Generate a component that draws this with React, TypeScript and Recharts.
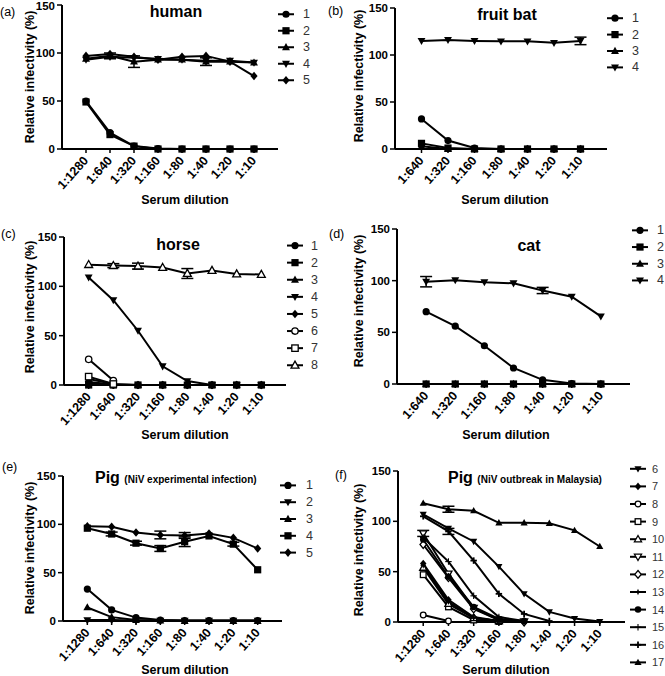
import React from 'react'
import { LineChart, Line, XAxis, YAxis, Legend, ErrorBar } from 'recharts'

const FONT = '"Liberation Sans", Arial, Helvetica, sans-serif'

const dil8 = ['1:1280', '1:640', '1:320', '1:160', '1:80', '1:40', '1:20', '1:10']
const dil7 = ['1:640', '1:320', '1:160', '1:80', '1:40', '1:20', '1:10']
const yTicks = [0, 50, 100, 150]

type V = number | null

// (a) human
const human1: V[] = [50, 17, 3, 0.5, 0, 0, 0, 0]
const human2: V[] = [49, 15, 3, 0, 0, 0, 0, 0]
const human3: V[] = [94, 97, 91, 93, 93, 91, 91, 90]
const human3Err: V[] = [null, 3, 6, null, null, 4, null, null]
const human4: V[] = [93, 96, 95, 94, 93, 92, 92, 90]
const human5: V[] = [97, 99, 96, 93, 96, 97, 91, 76]

// (b) fruit bat
const bat1: V[] = [32, 9, 1, 0, 0, 0, 0]
const bat2: V[] = [6, 1, 0, 0, 0, 0, 0]
const bat3: V[] = [3, 0, 0, 0, 0, 0, 0]
const bat4: V[] = [115, 116, 115, 114.5, 114.5, 113, 115]
const bat4Err: V[] = [null, null, null, null, null, null, 4]

// (c) horse
const horse1: V[] = [2, 0, 0, 0, 0, 0, 0, 0]
const horse2: V[] = [0, 0, 0, 0, 0, 0, 0, 0]
const horse3: V[] = [6, 1, 0, 0, 0, 0, 0, 0]
const horse4: V[] = [109, 86, 55, 19, 4, 0, 0, 0]
const horse5: V[] = [3, 0.5, 0, 0, 0, 0, 0, 0]
const horse6: V[] = [26, 4.5, null, null, null, null, null, null]
const horse7: V[] = [8.5, 1, null, null, null, null, null, null]
const horse8: V[] = [122, 121, 120.5, 119, 113, 116, 112.5, 112]
const horse8Err: V[] = [null, 2, 3, null, 5, null, null, null]

// (d) cat
const cat1: V[] = [70, 56, 37, 15.5, 4, 0.5, 0]
const cat2: V[] = [0, 0, 0, 0, 0, 0, 0]
const cat3: V[] = [0, 0, 0, 0, 0, 0, 0]
const cat4: V[] = [99, 100.5, 98.5, 97.5, 90.5, 84.5, 65.5]
const cat4Err: V[] = [5, null, null, null, 3, null, null]

// (e) pig, experimental infection
const pigE1: V[] = [33, 11.5, 3.5, 1, 0.5, 0.5, 0.5, 0.5]
const pigE2: V[] = [1, 1, 0.5, 0.5, 0.5, 0.5, 0.5, 0.5]
const pigE3: V[] = [14, 4, 1, 0.5, 0, 0, 0, 0]
const pigE4: V[] = [96, 90, 80.5, 75, 82, 88, 79.5, 53]
const pigE4Err: V[] = [null, 2, 2, 3, 5, null, 2, null]
const pigE5: V[] = [98, 97.5, 91.5, 89, 88.5, 90.5, 86, 75]
const pigE5Err: V[] = [null, null, null, 4, 3, null, null, null]

// (f) pig, outbreak in Malaysia
const pigM6: V[] = [107, 93, 80, 55, 28, 10, 3.5, 0.5]
const pigM7: V[] = [58, 22, 5, 1, 0, null, null, null]
const pigM8: V[] = [7, 1, null, null, null, null, null, null]
const pigM9: V[] = [47, 15, 2, 0.5, null, null, null, null]
const pigM10: V[] = [54, 18, 4, 1, null, null, null, null]
const pigM11: V[] = [88, 48, 14, 2, 0.5, null, null, null]
const pigM11Err: V[] = [3, null, null, null, null, null, null, null]
const pigM12: V[] = [77, 44, 13, 2, 0, null, null, null]
const pigM13: V[] = [56, 20, 4, 1, 0, null, null, null]
const pigM14: V[] = [82, 45, 15, 3, 1, null, null, null]
const pigM15: V[] = [84, 60, 26, 5, 1, null, null, null]
const pigM16: V[] = [105, 90, 61, 28, 8, 1, null, null]
const pigM16Err: V[] = [null, 3, null, null, null, null, null, null]
const pigM17: V[] = [118, 112, 110.5, 98.5, 98.5, 98, 91, 75]
const pigM17Err: V[] = [null, 3, null, null, null, null, null, null]

type Shape =
  | 'circle' | 'square' | 'tri' | 'tridown' | 'diamond'
  | 'ocircle' | 'osquare' | 'otri' | 'otridown' | 'odiamond'
  | 'star' | 'plus' | 'thinplus'

interface Series { name: string; shape: Shape; values: V[]; err?: V[] }

const humanSeries: Series[] = [
  { name: '1', shape: 'circle', values: human1 },
  { name: '2', shape: 'square', values: human2 },
  { name: '3', shape: 'tri', values: human3, err: human3Err },
  { name: '4', shape: 'tridown', values: human4 },
  { name: '5', shape: 'diamond', values: human5 },
]
const batSeries: Series[] = [
  { name: '1', shape: 'circle', values: bat1 },
  { name: '2', shape: 'square', values: bat2 },
  { name: '3', shape: 'tri', values: bat3 },
  { name: '4', shape: 'tridown', values: bat4, err: bat4Err },
]
const horseSeries: Series[] = [
  { name: '1', shape: 'circle', values: horse1 },
  { name: '2', shape: 'square', values: horse2 },
  { name: '3', shape: 'tri', values: horse3 },
  { name: '4', shape: 'tridown', values: horse4 },
  { name: '5', shape: 'diamond', values: horse5 },
  { name: '6', shape: 'ocircle', values: horse6 },
  { name: '7', shape: 'osquare', values: horse7 },
  { name: '8', shape: 'otri', values: horse8, err: horse8Err },
]
const catSeries: Series[] = [
  { name: '1', shape: 'circle', values: cat1 },
  { name: '2', shape: 'square', values: cat2 },
  { name: '3', shape: 'tri', values: cat3 },
  { name: '4', shape: 'tridown', values: cat4, err: cat4Err },
]
const pigExpSeries: Series[] = [
  { name: '1', shape: 'circle', values: pigE1 },
  { name: '2', shape: 'tridown', values: pigE2 },
  { name: '3', shape: 'tri', values: pigE3 },
  { name: '4', shape: 'square', values: pigE4, err: pigE4Err },
  { name: '5', shape: 'diamond', values: pigE5, err: pigE5Err },
]
const pigMalSeries: Series[] = [
  { name: '6', shape: 'tridown', values: pigM6 },
  { name: '7', shape: 'diamond', values: pigM7 },
  { name: '8', shape: 'ocircle', values: pigM8 },
  { name: '9', shape: 'osquare', values: pigM9 },
  { name: '10', shape: 'otri', values: pigM10 },
  { name: '11', shape: 'otridown', values: pigM11, err: pigM11Err },
  { name: '12', shape: 'odiamond', values: pigM12 },
  { name: '13', shape: 'star', values: pigM13 },
  { name: '14', shape: 'circle', values: pigM14 },
  { name: '15', shape: 'thinplus', values: pigM15 },
  { name: '16', shape: 'plus', values: pigM16, err: pigM16Err },
  { name: '17', shape: 'tri', values: pigM17, err: pigM17Err },
]

const Marker = ({ shape, cx, cy, s = 1 }: { shape: Shape; cx: number; cy: number; s?: number }) => {
  const r = 3.6 * s
  const open = { fill: '#fff', stroke: '#000', strokeWidth: 1.3 }
  const solid = { fill: '#000' }
  const tri = `${cx},${cy - r * 1.15} ${cx + r * 1.1},${cy + r * 0.8} ${cx - r * 1.1},${cy + r * 0.8}`
  const triDown = `${cx},${cy + r * 1.15} ${cx + r * 1.1},${cy - r * 0.8} ${cx - r * 1.1},${cy - r * 0.8}`
  const dia = `${cx},${cy - r * 1.2} ${cx + r},${cy} ${cx},${cy + r * 1.2} ${cx - r},${cy}`
  switch (shape) {
    case 'circle': return <circle cx={cx} cy={cy} r={r} {...solid} />
    case 'ocircle': return <circle cx={cx} cy={cy} r={r - 0.4} {...open} />
    case 'square': return <rect x={cx - r} y={cy - r} width={2 * r} height={2 * r} {...solid} />
    case 'osquare': return <rect x={cx - r + 0.4} y={cy - r + 0.4} width={2 * r - 0.8} height={2 * r - 0.8} {...open} />
    case 'tri': return <polygon points={tri} {...solid} />
    case 'otri': return <polygon points={tri} {...open} />
    case 'tridown': return <polygon points={triDown} {...solid} />
    case 'otridown': return <polygon points={triDown} {...open} />
    case 'diamond': return <polygon points={dia} {...solid} />
    case 'odiamond': return <polygon points={dia} {...open} />
    case 'star': {
      const k = r * 0.75
      return <polygon points={`${cx},${cy - k * 1.3} ${cx + k * 0.4},${cy - k * 0.4} ${cx + k * 1.3},${cy} ${cx + k * 0.4},${cy + k * 0.4} ${cx},${cy + k * 1.3} ${cx - k * 0.4},${cy + k * 0.4} ${cx - k * 1.3},${cy} ${cx - k * 0.4},${cy - k * 0.4}`} {...solid} />
    }
    case 'plus':
    case 'thinplus': {
      const w = shape === 'plus' ? 1.8 : 1.1
      return (
        <g stroke="#000" strokeWidth={w}>
          <line x1={cx - r} y1={cy} x2={cx + r} y2={cy} />
          <line x1={cx} y1={cy - r} x2={cx} y2={cy + r} />
        </g>
      )
    }
  }
  return null
}

const dotFor = (shape: Shape, s: number) => (p: any) => {
  const k = `d${p.index}`
  if (p.cx == null || p.cy == null || p.value == null) return <g key={k} />
  return <g key={k}><Marker shape={shape} cx={p.cx} cy={p.cy} s={s} /></g>
}

const buildRows = (cats: string[], series: Series[]) =>
  cats.map((c, i) => {
    const row: Record<string, any> = { x: i + 1, label: c }
    series.forEach((s) => {
      row['v' + s.name] = s.values[i]
      if (s.err && s.err[i] != null) row['e' + s.name] = s.err[i]
    })
    return row
  })

const LegendBox = ({ series, gap, s, textX, fontSize }: { series: Series[]; gap: number; s: number; textX: number; fontSize: number }) => (
  <svg width={50} height={series.length * gap} style={{ display: 'block', overflow: 'visible' }}>
    {series.map((item, i) => {
      const y = gap / 2 + i * gap
      return (
        <g key={item.name}>
          <line x1={0} y1={y} x2={16} y2={y} stroke="#000" strokeWidth={2} />
          <Marker shape={item.shape} cx={8} cy={y} s={s} />
          <text x={textX} y={y} dominantBaseline="central" fontSize={fontSize} fontFamily={FONT} fill="#333">{item.name}</text>
        </g>
      )
    })}
  </svg>
)

interface PanelCfg {
  id: string
  x: number; y: number; w: number; h: number
  plot: { l: number; t: number; r: number; b: number }
  cats: string[]
  series: Series[]
  legend: { x: number; y: number; gap: number; textX: number; fontSize: number }
  markerScale: number
}

const Y_W = 30
const X_H = 40

const panels: PanelCfg[] = [
  { id: 'a', x: 0, y: 0, w: 330, h: 215, plot: { l: 62, t: 5, r: 278, b: 149 }, cats: dil8, series: humanSeries, legend: { x: 278, y: 14, gap: 16.5, textX: 25, fontSize: 12.5 }, markerScale: 1 },
  { id: 'b', x: 330, y: 0, w: 335, h: 215, plot: { l: 395, t: 8, r: 607, b: 149 }, cats: dil7, series: batSeries, legend: { x: 607, y: 18, gap: 16.4, textX: 25, fontSize: 12.5 }, markerScale: 1 },
  { id: 'c', x: 0, y: 215, w: 330, h: 235, plot: { l: 64, t: 237, r: 286, b: 385 }, cats: dil8, series: horseSeries, legend: { x: 287, y: 246, gap: 17.1, textX: 24, fontSize: 12.5 }, markerScale: 1 },
  { id: 'd', x: 330, y: 215, w: 335, h: 235, plot: { l: 397, t: 229, r: 630, b: 384 }, cats: dil7, series: catSeries, legend: { x: 632, y: 230, gap: 16.7, textX: 25, fontSize: 12.5 }, markerScale: 1 },
  { id: 'e', x: 0, y: 450, w: 330, h: 226, plot: { l: 63, t: 476, r: 282, b: 621 }, cats: dil8, series: pigExpSeries, legend: { x: 280, y: 485, gap: 16.8, textX: 26, fontSize: 12.5 }, markerScale: 1 },
  { id: 'f', x: 330, y: 450, w: 335, h: 226, plot: { l: 398, t: 471, r: 625, b: 622 }, cats: dil8, series: pigMalSeries, legend: { x: 630, y: 469, gap: 17.6, textX: 22, fontSize: 11 }, markerScale: 0.9 },
]

const DilTick = ({ x, y, payload, labels }: any) => {
  const tx = x + 3
  const ty = y + 6
  return (
    <text x={tx} y={ty} transform={`rotate(-48 ${tx} ${ty})`} textAnchor="end" fontSize={12.5} fontWeight="bold" fontFamily={FONT} fill="#000">
      {labels[payload.value - 1]}
    </text>
  )
}

const Panel = ({ cfg }: { cfg: PanelCfg }) => {
  const rows = buildRows(cfg.cats, cfg.series)
  const n = cfg.cats.length
  const margin = {
    left: cfg.plot.l - cfg.x - Y_W,
    top: cfg.plot.t - cfg.y,
    right: cfg.x + cfg.w - cfg.plot.r,
    bottom: cfg.y + cfg.h - cfg.plot.b - X_H,
  }
  return (
    <div style={{ position: 'absolute', left: cfg.x, top: cfg.y }}>
      <LineChart width={cfg.w} height={cfg.h} data={rows} margin={margin}>
        <XAxis
          dataKey="x"
          type="number"
          domain={[0, n + 1]}
          ticks={cfg.cats.map((_, i) => i + 1)}
          interval={0}
          height={X_H}
          tickSize={4}
          axisLine={{ stroke: '#000', strokeWidth: 2 }}
          tickLine={{ stroke: '#000', strokeWidth: 1.5 }}
          tick={(p: any) => <DilTick {...p} labels={cfg.cats} />}
        />
        <YAxis
          type="number"
          domain={[0, 150]}
          ticks={yTicks}
          width={Y_W}
          tickSize={5}
          tickMargin={2}
          axisLine={{ stroke: '#000', strokeWidth: 2 }}
          tickLine={{ stroke: '#000', strokeWidth: 1.5 }}
          tick={{ fontSize: 11.5, fontWeight: 'bold', fill: '#000', fontFamily: FONT }}
        />
        <Legend
          layout="horizontal"
          verticalAlign="middle"
          align="center"
          wrapperStyle={{
            left: cfg.legend.x - cfg.x,
            top: cfg.legend.y - cfg.y - cfg.legend.gap / 2,
            width: 50,
            height: cfg.series.length * cfg.legend.gap,
          }}
          content={() => (
            <LegendBox series={cfg.series} gap={cfg.legend.gap} s={cfg.markerScale} textX={cfg.legend.textX} fontSize={cfg.legend.fontSize} />
          )}
        />
        {cfg.series.map((s) => (
          <Line
            key={s.name}
            type="linear"
            dataKey={'v' + s.name}
            name={s.name}
            stroke="#000"
            strokeWidth={2}
            dot={dotFor(s.shape, cfg.markerScale)}
            activeDot={false}
            isAnimationActive={false}
          >
            {s.err && <ErrorBar dataKey={'e' + s.name} width={6} stroke="#000" strokeWidth={1.5} direction="y" />}
          </Line>
        ))}
      </LineChart>
    </div>
  )
}

const Note = ({ x, y, size, bold, rotate, left, children }: any) => (
  <div
    style={{
      position: 'absolute',
      left: x,
      top: y,
      transform: `translate(${left ? '0' : '-50%'}, -50%)${rotate ? ' rotate(-90deg)' : ''}`,
      fontSize: size,
      fontWeight: bold ? 700 : 400,
      whiteSpace: 'nowrap',
      lineHeight: 1,
      fontFamily: FONT,
      color: '#000',
    }}
  >
    {children}
  </div>
)

const yLabels = [
  { x: 30, y: 77 }, { x: 359, y: 76 }, { x: 30, y: 307 },
  { x: 359, y: 301 }, { x: 30, y: 548 }, { x: 359, y: 550 },
]
const xLabels = [
  { x: 185, y: 200 }, { x: 505, y: 200 }, { x: 185, y: 435 },
  { x: 506, y: 435 }, { x: 185, y: 670 }, { x: 506, y: 670 },
]

export default function App() {
  return (
    <div style={{ position: 'absolute', left: 0, top: 0, width: 665, height: 676, overflow: 'hidden', background: '#fff', fontFamily: FONT }}>
      {panels.map((p) => <Panel key={p.id} cfg={p} />)}

      <Note x={0} y={12} size={12.5} left>(a)</Note>
      <Note x={328} y={11} size={12.5} left>(b)</Note>
      <Note x={1} y={234} size={12.5} left>(c)</Note>
      <Note x={329} y={234} size={12.5} left>(d)</Note>
      <Note x={2} y={467} size={12.5} left>(e)</Note>
      <Note x={335} y={475} size={12.5} left>(f)</Note>

      <Note x={176} y={12} size={16} bold>human</Note>
      <Note x={507} y={15} size={16} bold>fruit bat</Note>
      <Note x={178} y={245} size={16} bold>horse</Note>
      <Note x={529} y={246} size={16} bold>cat</Note>
      <Note x={95} y={478} size={16} bold left>
        Pig <span style={{ fontSize: 10 }}>(NiV experimental infection)</span>
      </Note>
      <Note x={448} y={478} size={16} bold left>
        Pig <span style={{ fontSize: 10 }}>(NiV outbreak in Malaysia)</span>
      </Note>

      {yLabels.map((p, i) => (
        <Note key={'y' + i} x={p.x} y={p.y} size={12.5} bold rotate>Relative infectivity (%)</Note>
      ))}
      {xLabels.map((p, i) => (
        <Note key={'x' + i} x={p.x} y={p.y} size={12.5} bold>Serum dilution</Note>
      ))}
    </div>
  )
}
